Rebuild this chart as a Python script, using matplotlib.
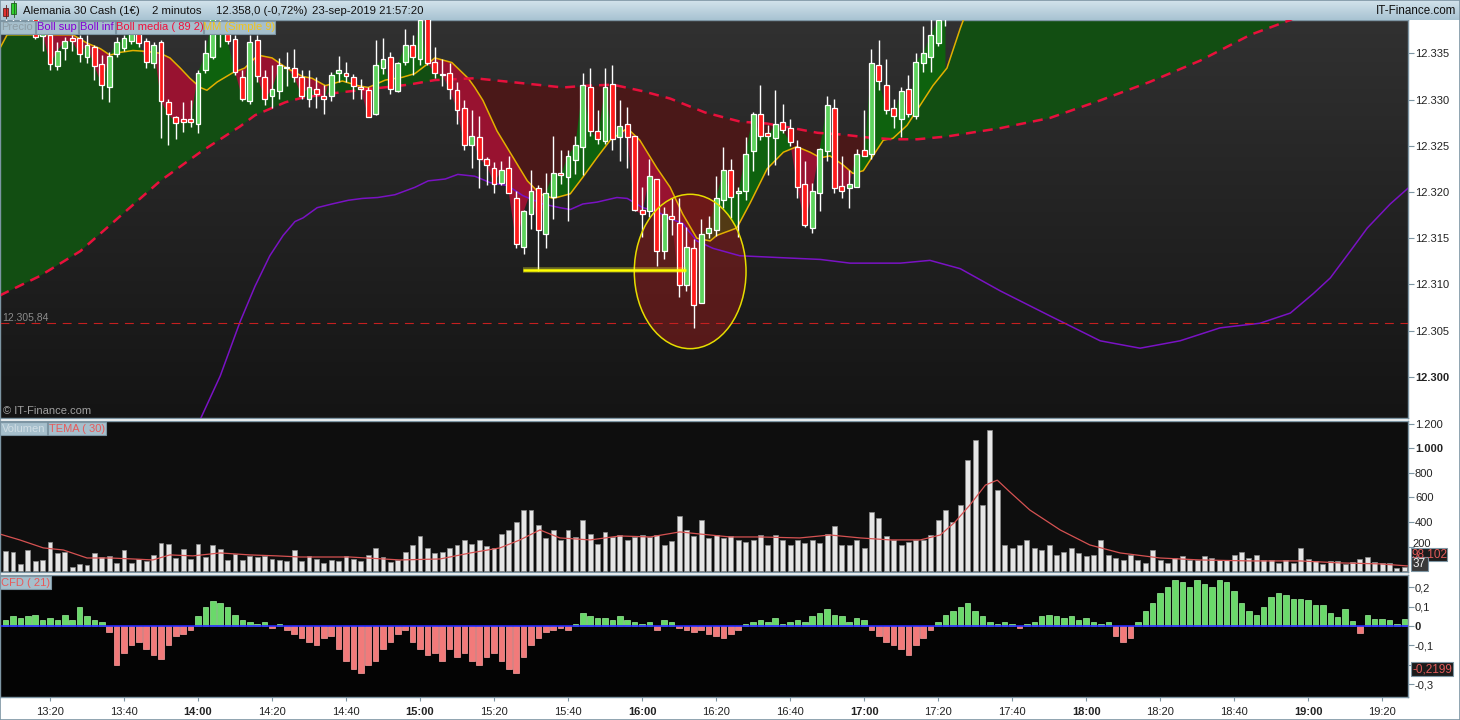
import numpy as np
import matplotlib
matplotlib.use("Agg")
import matplotlib.pyplot as plt
from matplotlib.patches import Rectangle, Ellipse
from matplotlib.colors import LinearSegmentedColormap

plt.rcParams['font.family'] = ['Liberation Sans', 'DejaVu Sans']

W, H = 1460, 720

# ---------------- data (2-minute bars, first bar 13:08) ----------------
first_bar_minute = 13 * 60 + 8
bar_minutes = 2
n_bars = 190

opens = [12339.5, 12340.0, 12339.2, 12338.8, 12339.0, 12336.9, 12337.0, 12333.6, 12335.6, 12336.6,
         12336.7, 12334.6, 12335.7, 12333.8, 12331.3, 12334.9, 12335.6, 12336.3, 12338.0, 12336.3,
         12333.9, 12336.2, 12329.7, 12328.1, 12327.9, 12327.9, 12327.4, 12333.2, 12334.6, 12339.0,
         12337.1, 12336.5, 12332.4, 12329.8, 12336.4, 12332.4, 12330.4, 12330.9, 12333.4, 12333.4,
         12332.4, 12330.1, 12331.1, 12330.4, 12330.4, 12332.9, 12332.9, 12332.4, 12331.4, 12331.0,
         12328.4, 12333.4, 12334.6, 12330.9, 12334.1, 12335.9, 12334.4, 12339.0, 12334.1, 12332.6,
         12332.9, 12331.0, 12329.1, 12325.1, 12325.9, 12323.6, 12322.6, 12321.0, 12322.6, 12319.3,
         12314.0, 12317.6, 12320.4, 12315.5, 12319.5, 12322.1, 12321.6, 12323.5, 12324.9, 12331.4,
         12326.6, 12325.5, 12331.7, 12325.9, 12327.4, 12326.1, 12318.0, 12317.9, 12321.4, 12313.6,
         12317.4, 12316.6, 12309.9, 12313.9, 12308.0, 12315.6, 12315.9, 12319.1, 12322.4, 12319.9,
         12320.1, 12324.4, 12328.4, 12326.4, 12325.8, 12327.6, 12326.9, 12324.9, 12320.9, 12316.1,
         12319.9, 12324.4, 12329.1, 12320.6, 12320.4, 12320.5, 12324.5, 12324.1, 12333.7, 12331.6,
         12329.1, 12327.9, 12331.1, 12328.2, 12333.9, 12334.6, 12336.1, 12339.0]
highs = [12340.5, 12340.8, 12340.0, 12339.8, 12339.5, 12337.6, 12337.5, 12336.2, 12336.8, 12337.0,
         12337.0, 12337.0, 12335.9, 12334.8, 12335.1, 12336.8, 12337.0, 12338.5, 12338.5, 12336.6,
         12336.2, 12336.4, 12330.1, 12328.2, 12329.7, 12329.9, 12333.2, 12336.4, 12340.0, 12341.5,
         12338.6, 12337.0, 12333.2, 12337.0, 12337.0, 12333.2, 12333.7, 12334.5, 12335.1, 12335.5,
         12333.2, 12333.2, 12332.4, 12331.6, 12333.0, 12334.7, 12334.1, 12332.8, 12332.2, 12331.3,
         12336.4, 12336.6, 12335.1, 12334.1, 12337.6, 12337.0, 12339.5, 12340.0, 12335.7, 12334.4,
         12333.9, 12331.9, 12329.9, 12328.9, 12328.2, 12323.8, 12323.2, 12323.4, 12323.9, 12320.1,
         12318.0, 12322.4, 12320.7, 12322.1, 12326.1, 12324.5, 12324.5, 12326.1, 12332.9, 12333.4,
         12328.9, 12333.4, 12333.7, 12329.9, 12329.2, 12326.1, 12320.5, 12323.6, 12321.4, 12318.4,
         12319.4, 12319.4, 12316.2, 12314.9, 12317.1, 12317.4, 12321.7, 12324.9, 12323.6, 12320.5,
         12325.9, 12328.6, 12331.6, 12327.2, 12331.0, 12329.5, 12327.9, 12325.6, 12323.4, 12321.0,
         12324.8, 12330.4, 12330.1, 12323.9, 12322.4, 12324.6, 12328.9, 12335.5, 12336.4, 12334.4,
         12330.1, 12331.4, 12332.6, 12335.0, 12337.9, 12339.5, 12340.0, 12341.5]
lows = [12338.2, 12338.5, 12338.0, 12337.8, 12336.5, 12335.3, 12333.2, 12333.2, 12334.3, 12335.3,
        12334.1, 12333.9, 12332.1, 12330.1, 12329.7, 12334.6, 12335.2, 12336.0, 12335.7, 12333.4,
        12333.4, 12325.8, 12325.1, 12325.7, 12326.5, 12327.0, 12326.4, 12332.9, 12334.4, 12335.7,
        12336.0, 12332.6, 12329.8, 12329.5, 12331.9, 12329.4, 12329.1, 12330.1, 12331.5, 12331.9,
        12330.1, 12329.2, 12329.1, 12328.4, 12329.8, 12331.9, 12331.9, 12330.1, 12330.1, 12328.1,
        12328.3, 12332.8, 12330.6, 12330.8, 12333.7, 12332.6, 12333.7, 12333.7, 12332.3, 12331.5,
        12330.1, 12327.4, 12324.5, 12322.6, 12320.4, 12320.8, 12319.9, 12320.8, 12319.9, 12313.9,
        12313.3, 12316.0, 12311.5, 12313.9, 12317.1, 12320.9, 12316.9, 12321.9, 12321.8, 12326.1,
        12325.2, 12325.2, 12324.5, 12323.4, 12322.6, 12317.9, 12315.1, 12317.3, 12312.0, 12312.7,
        12315.3, 12308.6, 12309.3, 12305.3, 12308.0, 12315.0, 12315.2, 12318.3, 12317.2, 12315.1,
        12319.1, 12322.3, 12325.6, 12321.8, 12322.9, 12326.4, 12325.0, 12319.3, 12316.2, 12315.6,
        12317.9, 12323.3, 12319.9, 12319.3, 12318.3, 12320.5, 12323.9, 12323.6, 12331.0, 12328.4,
        12326.9, 12325.9, 12328.1, 12327.9, 12333.0, 12333.0, 12335.8, 12337.9]
closes = [12340.0, 12339.2, 12338.8, 12339.3, 12336.8, 12337.2, 12333.8, 12335.3, 12336.3, 12336.3,
          12334.9, 12335.9, 12333.6, 12331.6, 12334.7, 12336.2, 12336.6, 12337.5, 12336.1, 12334.1,
          12335.9, 12329.8, 12328.4, 12327.5, 12327.6, 12327.6, 12332.9, 12335.0, 12339.0, 12341.0,
          12336.3, 12333.0, 12330.1, 12336.2, 12332.5, 12330.1, 12331.1, 12333.7, 12333.4, 12332.4,
          12330.4, 12331.4, 12330.6, 12330.1, 12332.6, 12333.2, 12332.5, 12331.5, 12331.1, 12328.1,
          12333.7, 12334.4, 12331.1, 12333.9, 12335.9, 12334.6, 12338.6, 12333.9, 12332.9, 12332.6,
          12331.1, 12328.9, 12325.1, 12326.0, 12323.6, 12322.9, 12320.9, 12322.4, 12319.9, 12314.4,
          12317.9, 12320.1, 12315.9, 12319.9, 12322.0, 12321.8, 12323.9, 12325.1, 12331.6, 12326.6,
          12325.7, 12331.4, 12325.7, 12327.1, 12325.9, 12318.0, 12317.6, 12321.7, 12313.6, 12317.6,
          12317.1, 12309.9, 12314.0, 12307.8, 12315.5, 12316.1, 12319.3, 12322.4, 12319.5, 12319.9,
          12324.1, 12328.4, 12326.0, 12326.0, 12327.4, 12326.7, 12325.4, 12320.5, 12316.4, 12320.1,
          12324.6, 12329.4, 12320.4, 12320.1, 12320.9, 12324.1, 12323.9, 12333.9, 12332.0, 12328.9,
          12328.2, 12330.9, 12328.4, 12334.1, 12335.0, 12337.0, 12338.6, 12341.0]

volume = [163, 155, 57, 171, 79, 90, 237, 147, 155, 33, 57, 49, 147, 114, 122, 65, 171, 65, 98, 82,
          131, 228, 220, 106, 180, 98, 220, 114, 212, 180, 90, 139, 90, 122, 114, 122, 98, 90, 82, 171,
          82, 120, 100, 65, 90, 80, 120, 100, 80, 130, 190, 115, 75, 90, 155, 210, 285, 190, 145, 155,
          190, 210, 250, 220, 250, 205, 190, 300, 335, 400, 500, 500, 375, 270, 335, 250, 335, 280, 415, 300,
          220, 320, 280, 295, 250, 280, 295, 280, 295, 210, 245, 450, 335, 285, 415, 270, 295, 270, 285, 250,
          235, 250, 295, 210, 295, 250, 210, 250, 230, 250, 230, 300, 365, 210, 210, 250, 190, 480, 430, 285,
          250, 210, 235, 250, 250, 295, 415, 500, 400, 540, 905, 1070, 540, 1150, 660, 210, 190, 210, 250, 190,
          170, 210, 130, 155, 190, 145, 120, 130, 250, 130, 105, 90, 130, 90, 65, 170, 90, 65, 105, 120,
          90, 90, 120, 105, 90, 90, 130, 155, 105, 130, 90, 90, 65, 90, 65, 185, 98, 82, 57, 82,
          82, 57, 73, 98, 114, 73, 65, 65, 25, 37]

cfd = [0.03, 0.05, 0.04, 0.05, 0.06, 0.03, 0.04, 0.03, 0.06, 0.03,
       0.10, 0.05, 0.03, 0.02, -0.03, -0.20, -0.14, -0.10, -0.08, -0.12,
       -0.15, -0.17, -0.10, -0.05, -0.04, -0.02, 0.05, 0.10, 0.13, 0.12,
       0.10, 0.06, 0.03, 0.02, 0.01, 0.02, -0.01, 0.01, -0.02, -0.04,
       -0.06, -0.08, -0.10, -0.06, -0.05, -0.12, -0.18, -0.22, -0.24, -0.20,
       -0.18, -0.12, -0.08, -0.04, -0.02, -0.08, -0.12, -0.15, -0.14, -0.18,
       -0.12, -0.16, -0.14, -0.18, -0.20, -0.16, -0.14, -0.18, -0.22, -0.24,
       -0.16, -0.10, -0.06, -0.03, -0.02, -0.01, -0.02, 0.01, 0.07, 0.05,
       0.04, 0.04, 0.03, 0.05, 0.03, 0.02, 0.01, 0.02, -0.02, 0.03,
       0.02, -0.01, -0.02, -0.03, -0.02, -0.04, -0.05, -0.06, -0.04, -0.02,
       0.01, 0.02, 0.03, 0.02, 0.04, 0.01, 0.02, 0.03, 0.02, 0.05,
       0.07, 0.09, 0.06, 0.05, 0.02, 0.04, 0.03, -0.02, -0.05, -0.08,
       -0.10, -0.12, -0.15, -0.10, -0.06, -0.02, 0.02, 0.06, 0.08, 0.10,
       0.12, 0.08, 0.05, 0.02, 0.01, 0.02, 0.01, -0.01, 0.01, 0.02,
       0.05, 0.06, 0.05, 0.04, 0.05, 0.03, 0.04, 0.02, 0.01, 0.02,
       -0.05, -0.08, -0.06, 0.02, 0.08, 0.12, 0.17, 0.20, 0.24, 0.23,
       0.20, 0.24, 0.22, 0.20, 0.24, 0.23, 0.18, 0.12, 0.08, 0.06,
       0.10, 0.15, 0.17, 0.16, 0.14, 0.14, 0.135, 0.11, 0.11, 0.07,
       0.048, 0.09, 0.026, -0.038, 0.057, 0.036, 0.036, 0.031, 0.01, 0.036]

# indicator lines (bar position, value)
mm_pos = [-0.8, 0.2, 9.1, 11.0, 12.8, 14.1, 15.5, 17.2, 19.1, 20.9, 22.2, 23.6, 24.9, 26.3, 27.2,
          28.6, 30.7, 32.3, 34.1, 36.0, 37.8, 40.1, 41.4, 43.2, 45.5, 47.6, 49.0, 51.3, 53.6, 55.3,
          57.1, 58.0, 60.3, 62.5, 63.4, 64.5, 66.4, 68.6, 70.5, 72.2, 74.0, 76.3, 78.0, 79.9, 81.7,
          84.0, 85.7, 88.0, 89.8, 91.5, 93.4, 95.2, 96.1, 98.8, 100.6, 102.9, 105.1, 106.9, 108.7, 110.1,
          111.4, 113.2, 114.5, 115.9, 117.2, 118.6, 119.9, 121.8, 123.6, 125.3, 127.2, 129.0, 131.0, 135.0, 189.5]
mm_val = [12335.5, 12337.0, 12337.0, 12336.1, 12335.5, 12334.8, 12335.1, 12335.3, 12335.2, 12335.0,
          12334.5, 12333.4, 12332.3, 12331.3, 12331.0, 12331.9, 12332.9, 12333.4, 12334.8, 12334.5,
          12333.5, 12332.5, 12332.3, 12331.5, 12332.0, 12331.5, 12331.3, 12332.1, 12332.4, 12332.8,
          12333.9, 12334.5, 12334.0, 12332.3, 12331.3, 12329.9, 12326.6, 12323.7, 12321.2, 12319.8,
          12319.3, 12319.8, 12321.6, 12323.7, 12325.6, 12326.9, 12325.6, 12322.6, 12320.5, 12317.6,
          12315.0, 12314.7, 12315.3, 12316.1, 12318.8, 12322.5, 12324.3, 12324.9, 12324.3, 12323.7,
          12323.9, 12322.9, 12322.0, 12322.3, 12323.9, 12325.6, 12325.8, 12327.2, 12329.4, 12331.5,
          12333.4, 12337.7, 12342.0, 12346.0, 12362.0]

media_pos = [-0.8, 4.6, 10.1, 15.5, 20.9, 26.3, 31.7, 33.7, 37.8, 40.1, 44.5, 49.9, 54.4, 58.0, 63.4,
             68.2, 71.8, 75.3, 78.6, 82.1, 86.1, 89.8, 94.5, 99.3, 102.9, 106.4, 109.7, 113.2, 116.4, 119.9,
             123.2, 127.2, 134.4, 141.1, 147.9, 154.6, 161.4, 168.2, 173.6, 177.6, 189.5]
media_val = [12308.8, 12310.9, 12313.6, 12317.4, 12321.2, 12324.3, 12327.1, 12328.3, 12329.7, 12330.2,
             12330.7, 12331.2, 12331.6, 12332.1, 12332.3, 12331.9, 12331.6, 12331.3, 12331.5, 12331.6,
             12330.9, 12330.1, 12328.6, 12327.6, 12327.4, 12326.9, 12326.4, 12326.2, 12325.9, 12325.7,
             12325.7, 12326.0, 12326.9, 12328.0, 12329.9, 12331.9, 12334.2, 12337.0, 12338.6, 12340.5, 12345.0]

binf_pos = [24.0, 26.3, 29.0, 31.7, 33.7, 35.7, 37.5, 39.1, 40.2, 42.1, 44.1, 46.3, 48.2, 50.3, 52.6,
            55.3, 57.1, 59.4, 61.1, 63.4, 65.5, 67.8, 69.9, 72.6, 74.9, 76.3, 78.0, 79.9, 82.6, 84.0,
            86.1, 88.0, 89.8, 91.5, 93.4, 95.6, 99.2, 104.6, 110.1, 114.1, 120.9, 124.9, 129.0, 134.4, 141.1,
            147.9, 153.3, 158.7, 164.1, 169.5, 173.6, 176.7, 179.0, 181.7, 184.0, 187.1, 189.5]
binf_val = [12291.0, 12295.4, 12300.1, 12306.0, 12309.8, 12313.1, 12315.3, 12316.8, 12317.2, 12318.3,
            12318.7, 12319.1, 12319.3, 12319.4, 12319.7, 12320.5, 12321.2, 12321.4, 12321.9, 12321.7,
            12321.0, 12320.7, 12319.6, 12318.7, 12318.3, 12318.1, 12318.7, 12318.9, 12319.4, 12319.3,
            12318.3, 12317.9, 12317.1, 12316.6, 12314.7, 12313.9, 12313.1, 12312.9, 12312.7, 12312.3,
            12312.3, 12312.6, 12311.7, 12309.3, 12306.6, 12303.9, 12303.1, 12303.9, 12305.3, 12305.8,
            12306.9, 12309.0, 12310.7, 12313.6, 12316.1, 12318.7, 12320.4]

tema_pos = [-0.8, 1.9, 5.1, 7.8, 11.0, 14.1, 17.2, 19.9, 22.2, 25.3, 29.0, 33.0, 36.7, 39.8, 46.5,
            53.3, 58.7, 62.8, 66.8, 69.5, 72.2, 74.9, 79.0, 83.0, 87.1, 91.1, 93.8, 97.9, 101.9, 107.3,
            111.4, 115.5, 119.5, 123.6, 126.3, 128.3, 130.3, 132.4, 134.0, 135.7, 138.4, 142.5, 146.5, 150.6, 156.0,
            161.4, 168.2, 174.9, 180.3, 185.7, 189.5]
tema_val = [302, 254, 189, 172, 107, 107, 99, 91, 132, 124, 148, 132, 124, 115, 115,
            91, 99, 148, 189, 254, 335, 270, 254, 286, 278, 319, 302, 278, 278, 270,
            294, 270, 254, 254, 294, 400, 538, 700, 740, 644, 497, 335, 213, 148, 107,
            91, 83, 83, 67, 59, 42]

prev_close_level = 12305.84
support_level = 12311.6
support_span = (69.9, 91.9)
circle_center = (92.5, 12311.4)
circle_size = (15.1, 16.7)

price_ticks = [12300, 12305, 12310, 12315, 12320, 12325, 12330, 12335]
vol_ticks = [200, 400, 600, 800, 1000, 1200]
cfd_ticks = [0.2, 0.1, 0.0, -0.1, -0.2, -0.3]

# ---------------- layout ----------------
XMIN, XMAX = -0.76, 189.5
EDGE = '#7d95a3'

fig = plt.figure(figsize=(W / 100, H / 100), dpi=100, facecolor='white')


def box(x0, y0, x1, y1):
    return [x0 / W, 1 - y1 / H, (x1 - x0) / W, (y1 - y0) / H]


ax_p = fig.add_axes(box(0, 20, 1408, 418))
ax_v = fig.add_axes(box(0, 421, 1408, 572))
ax_c = fig.add_axes(box(0, 575, 1408, 697))
ax_h = fig.add_axes(box(0, 0, 1460, 20))

for ax in (ax_p, ax_v, ax_c):
    ax.set_xlim(XMIN, XMAX)
    for s in ax.spines.values():
        s.set_color(EDGE)
        s.set_linewidth(1.0)
    ax.yaxis.tick_right()
    ax.tick_params(axis='y', direction='out', length=4, width=0.8, colors=EDGE,
                   labelcolor='#222222', labelsize=8, pad=1)
    ax.tick_params(axis='x', bottom=False, labelbottom=False)

# ---------------- price panel ----------------
PMIN, PMAX = 12295.55, 12338.6
ax_p.set_ylim(PMIN, PMAX)
bg = LinearSegmentedColormap.from_list('bg', ['#313131', '#141414'])
ax_p.imshow(np.linspace(0, 1, 256).reshape(-1, 1), cmap=bg, aspect='auto',
            extent=[XMIN, XMAX, PMIN, PMAX], zorder=0)

xs = np.linspace(XMIN, XMAX, 4000)
mm_d = np.interp(xs, mm_pos, mm_val)
med_d = np.interp(xs, media_pos, media_val)
ax_p.fill_between(xs, med_d, mm_d, where=mm_d >= med_d, interpolate=True,
                  color='#124e12', lw=0, zorder=1)
ax_p.fill_between(xs, med_d, mm_d, where=mm_d < med_d, interpolate=True,
                  color='#4a1818', lw=0, zorder=1)

idx = np.arange(len(closes))
xb = np.linspace(0, len(closes) - 1, 3000)
cl_b = np.interp(xb, idx, closes)
mm_b = np.interp(xb, mm_pos, mm_val)
ax_p.fill_between(xb, mm_b, cl_b, where=cl_b >= mm_b, interpolate=True,
                  color='#0e620e', lw=0, zorder=2)
ax_p.fill_between(xb, mm_b, cl_b, where=cl_b < mm_b, interpolate=True,
                  color='#981230', lw=0, zorder=2)

ax_p.add_patch(Ellipse(circle_center, circle_size[0], circle_size[1],
                       fc='#8b1a1a', alpha=0.55, ec='none', zorder=3))

ax_p.plot(binf_pos, binf_val, color='#7a12c4', lw=1.1, zorder=4)
ax_p.plot(mm_pos, mm_val, color='#e2b000', lw=1.1, zorder=4)
ax_p.plot(media_pos, media_val, color='#e8103c', lw=1.8, ls=(0, (4, 2.8)), zorder=4)
ax_p.axhline(prev_close_level, color='#c42020', lw=0.8, ls=(0, (8, 6)), zorder=4)

for i in idx:
    o, h, l, c = opens[i], highs[i], lows[i], closes[i]
    ax_p.vlines(i, l, h, color='white', lw=1.0, zorder=5)
    col = '#5dd35d' if c >= o else '#ff1a1a'
    ax_p.add_patch(Rectangle((i - 0.33, min(o, c)), 0.66, max(abs(c - o), 0.15),
                             fc=col, ec='white', lw=0.9, zorder=6))

ax_p.add_patch(Ellipse(circle_center, circle_size[0], circle_size[1],
                       fill=False, ec='#e6dc00', lw=1.1, zorder=6.5))
ax_p.plot(support_span, [support_level] * 2, color='#ffff30', lw=4, alpha=0.35, zorder=8,
          solid_capstyle='butt')
ax_p.plot(support_span, [support_level] * 2, color='#ffff00', lw=1.8, zorder=8,
          solid_capstyle='butt')

ax_p.set_yticks(price_ticks)
ax_p.set_yticklabels([f"12.{v - 12000:03d}" for v in price_ticks])
for t, v in zip(ax_p.get_yticklabels(), price_ticks):
    if v == 12300:
        t.set_fontweight('bold')

ax_p.text(0.0015, prev_close_level + 0.6, '12.305,84', transform=ax_p.get_yaxis_transform(),
          color='#8c8c8c', fontsize=7.5, va='center', ha='left', zorder=9)
ax_p.text(0.002, 0.018, '© IT-Finance.com', transform=ax_p.transAxes, color='#a0a0a0',
          fontsize=8, va='center', ha='left', zorder=9)

# ---------------- volume panel ----------------
ax_v.set_facecolor('#0e0e0e')
ax_v.set_ylim(-7, 1221)
ax_v.bar(np.arange(n_bars), volume, width=0.66, color='#e6e6e6', edgecolor='#8a8a8a',
         lw=0.5, zorder=2)
ax_v.plot(tema_pos, tema_val, color='#d65252', lw=0.9, zorder=3)
ax_v.set_yticks(vol_ticks)
ax_v.set_yticklabels(['', '400', '600', '800', '1.000', '1.200'])
for t, v in zip(ax_v.get_yticklabels(), vol_ticks):
    if v == 1000:
        t.set_fontweight('bold')

# ---------------- cfd panel ----------------
ax_c.set_facecolor('#040404')
ax_c.set_ylim(-0.366, 0.264)
cfd_arr = np.array(cfd)
ax_c.bar(np.arange(n_bars), cfd_arr, width=0.75,
         color=np.where(cfd_arr >= 0, '#6ad96a', '#f27a7a'),
         edgecolor=np.where(cfd_arr >= 0, '#9af09a', '#ffa0a0'), lw=0.5, zorder=2)
ax_c.axhline(0, color='#2a2aff', lw=1.2, zorder=3)
ax_c.set_yticks(cfd_ticks)
ax_c.set_yticklabels(['0,2', '0,1', '0', '-0,1', '', '-0,3'])
for t, v in zip(ax_c.get_yticklabels(), cfd_ticks):
    if v == 0:
        t.set_fontweight('bold')

tick_bars = list(range(6, n_bars, 10))
tick_labels = []
for b in tick_bars:
    m = first_bar_minute + b * bar_minutes
    tick_labels.append(f"{m // 60}:{m % 60:02d}")
ax_c.set_xticks(tick_bars)
ax_c.set_xticklabels(tick_labels)
ax_c.tick_params(axis='x', bottom=True, labelbottom=True, direction='out', length=3,
                 width=0.8, colors=EDGE, labelcolor='#222222', labelsize=8, pad=4)
for t, lab in zip(ax_c.get_xticklabels(), tick_labels):
    t.set_family(['Liberation Sans Narrow', 'Liberation Sans', 'DejaVu Sans'])
    if lab.endswith(':00'):
        t.set_fontweight('bold')

# ---------------- header ----------------
hdr = LinearSegmentedColormap.from_list('hdr', ['#d3e3ec', '#a8c3d2'])
ax_h.imshow(np.linspace(0, 1, 64).reshape(-1, 1), cmap=hdr, aspect='auto',
            extent=[0, W, 20, 0])
ax_h.set_xlim(0, W)
ax_h.set_ylim(20, 0)
ax_h.axis('off')
ax_h.add_patch(Rectangle((3, 8), 5, 8, fc='#e03030', ec='#602020', lw=0.6))
ax_h.add_patch(Rectangle((11, 3), 5, 11, fc='#30d030', ec='#206020', lw=0.6))
ax_h.plot([5.5, 5.5], [5, 18], color='#602020', lw=0.6)
ax_h.plot([13.5, 13.5], [1, 17], color='#206020', lw=0.6)
hdr_parts = [(23, 'Alemania 30 Cash (1€)'), (152, '2 minutos'),
             (216, '12.358,0 (-0,72%)'), (312, '23-sep-2019 21:57:20')]
for x0, s in hdr_parts:
    ax_h.text(x0, 11, s, fontsize=8.2, color='#111111', va='center', ha='left')
ax_h.text(1456, 11, 'IT-Finance.com', fontsize=8.4, color='#111111', va='center', ha='right')


# ---------------- legend tags & value boxes ----------------
def tag(x0, x1, y0, y1, label, color, fc='#a6bfcc', fs=8):
    fig.add_artist(Rectangle((x0 / W, 1 - y1 / H), (x1 - x0) / W, (y1 - y0) / H,
                             transform=fig.transFigure, fc=fc, ec=EDGE, lw=0.8, zorder=10))
    fig.text((x0 + x1) / 2 / W, 1 - (y0 + y1) / 2 / H, label, color=color, fontsize=fs,
             ha='center', va='center', zorder=11)


tag(0, 35, 21, 34, 'Precio', '#8e9ea6')
tag(36, 78, 21, 34, 'Boll sup', '#8400d4')
tag(79, 115, 21, 34, 'Boll inf', '#8400d4')
tag(116, 203, 21, 34, 'Boll media ( 89 2)', '#f0103c')
tag(204, 275, 21, 34, 'MM (Simple 9)', '#f2c21a')
tag(0, 47, 422, 435, 'Volumen', '#d0dde4')
tag(48, 106, 422, 435, 'TEMA ( 30)', '#e85a5a')
tag(0, 51, 576, 589, 'CFD ( 21)', '#e85a5a')

# partly hidden "200" tick label peeking above the value boxes
fig.text(1412 / W, 1 - 544 / H, '200', fontsize=8, color='#222222', ha='left', va='center',
         zorder=9)
tag(1411, 1447, 548, 561, '98.102', '#e05a5a', fc='#1c1c1c', fs=8.5)
tag(1411, 1428, 557, 571, '37', '#f0f0f0', fc='#3a3a3a', fs=8.5)
tag(1411, 1453, 662, 676, '-0,2199', '#e05a5a', fc='#1c1c1c', fs=8.5)

fig.add_artist(Rectangle((0, 0), 1, 1, transform=fig.transFigure, fill=False,
                         ec=EDGE, lw=1.2, zorder=12))

fig.savefig('out.png', dpi=100, facecolor='white')
